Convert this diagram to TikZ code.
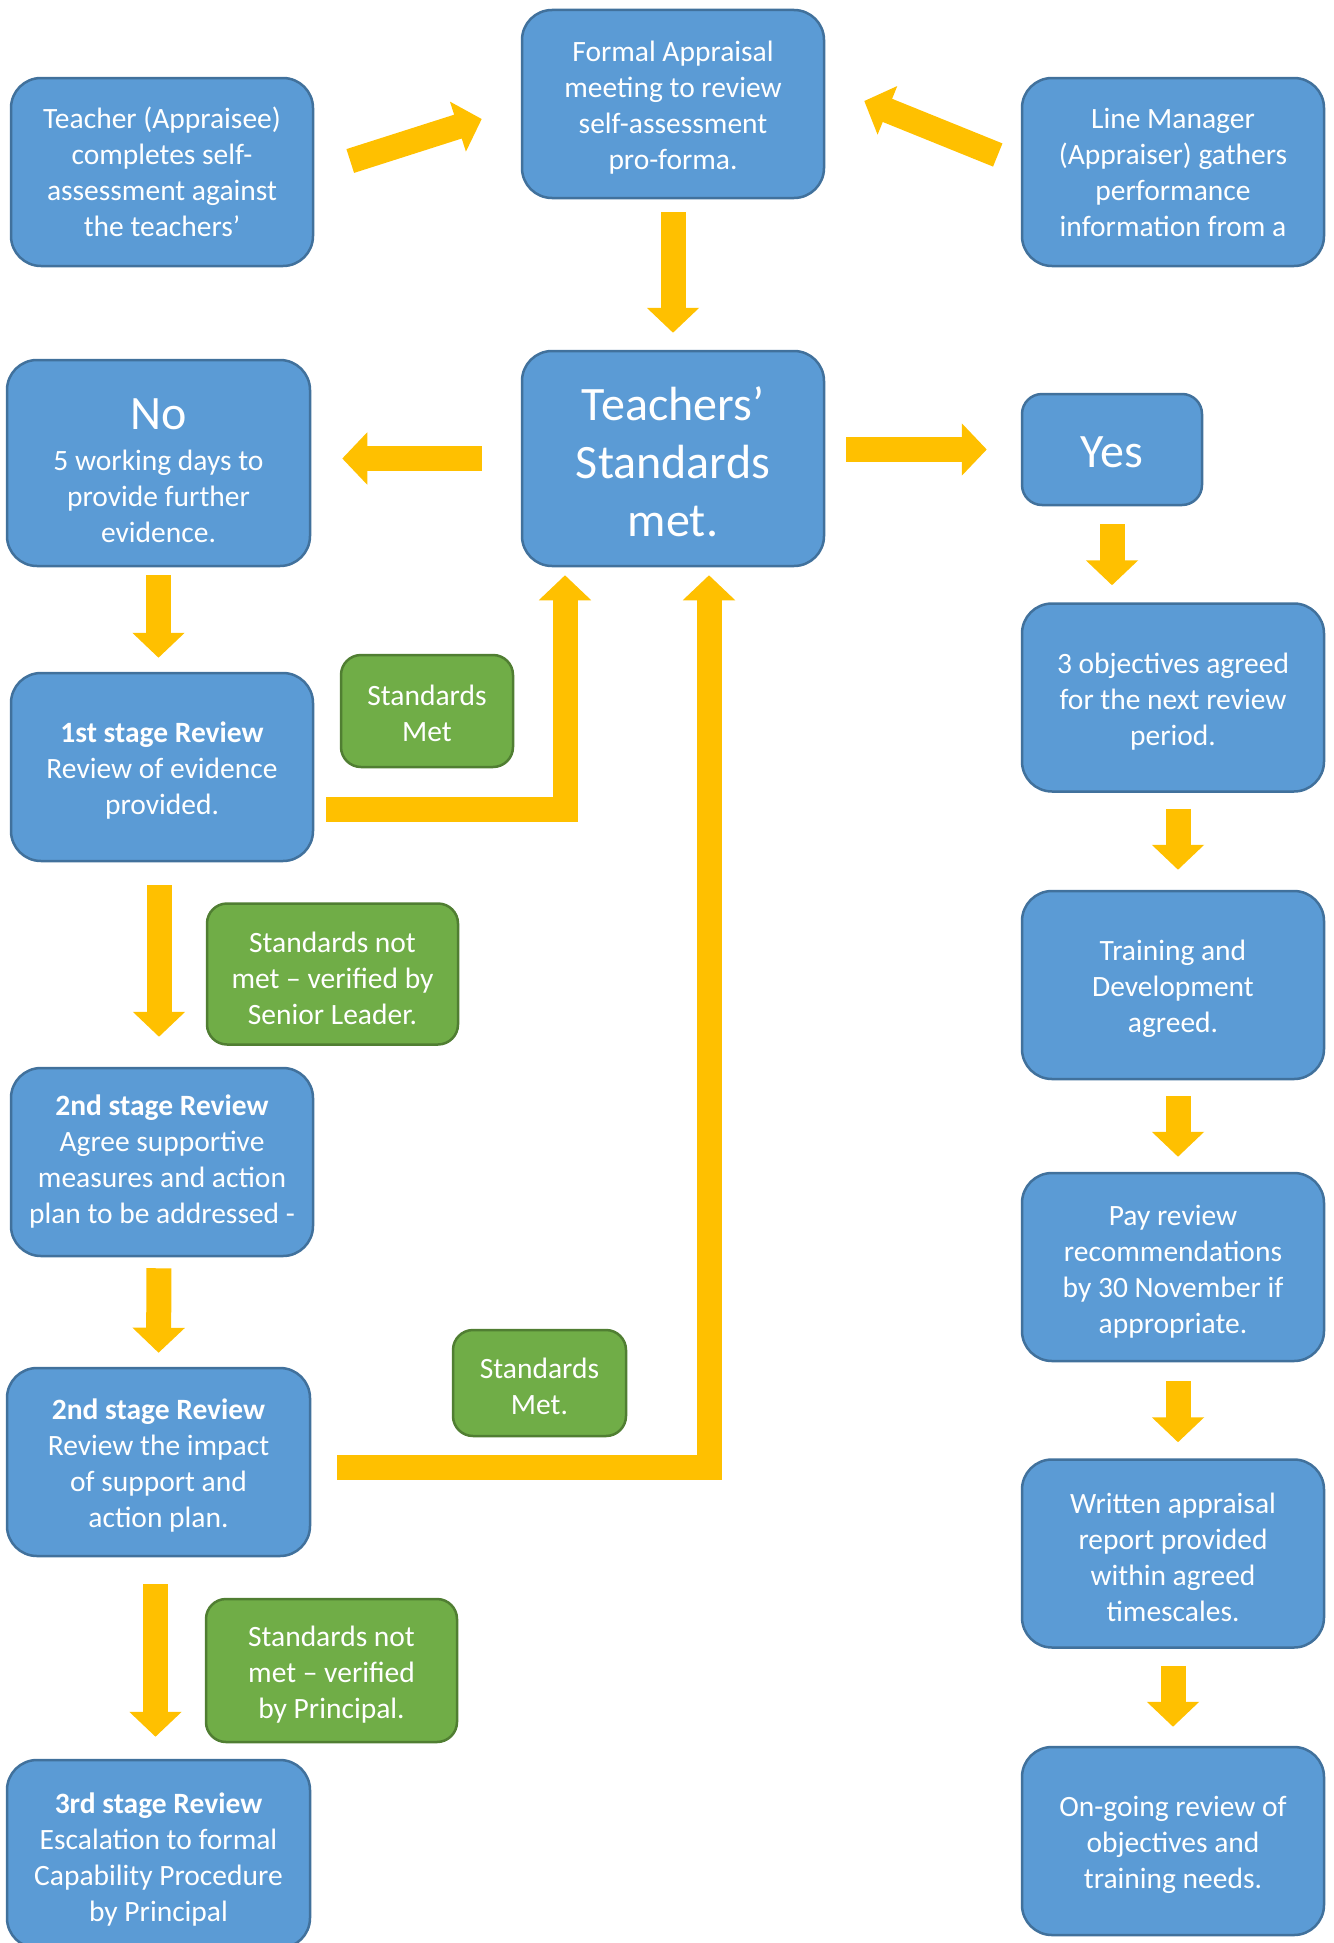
\documentclass[tikz,border=0pt]{standalone}
\usepackage{fontspec}
\setmainfont{Carlito}
\usepackage{tikz}
\usetikzlibrary{arrows.meta}

\definecolor{boxblue}{HTML}{5B9BD5}
\definecolor{boxblueline}{HTML}{41719C}
\definecolor{boxgreen}{HTML}{70AD47}
\definecolor{boxgreenline}{HTML}{507E32}
\definecolor{arrowgold}{HTML}{FFC000}

% pushes the first line of a box down a little
\newcommand{\boxstrut}[1][29pt]{\rule{0pt}{#1}}

\tikzset{
  bluebox/.style={
    draw=boxblueline,
    fill=boxblue,
    line width=2.5pt,
    rounded corners=30pt,
    text=white,
    align=center,
    inner sep=0pt,
    minimum width=302pt,
    minimum height=188pt,
    font=\fontsize{29.5}{36}\selectfont},
  greenbox/.style={
    bluebox,
    draw=boxgreenline,
    fill=boxgreen,
    rounded corners=20pt,
    minimum width=251pt,
    minimum height=141pt},
  bigtext/.style={font=\fontsize{48}{58}\selectfont},
  blockarrow/.style={
    draw=arrowgold,
    line width=25pt,
    line join=miter,
    -{Triangle[length=25pt,width=51pt,fill=arrowgold]}},
  gap/.style 2 args={shorten <=#1, shorten >=#2}
}

\begin{document}
\begin{tikzpicture}
\useasboundingbox (0pt,0pt) rectangle (1333pt,-1943pt);

% top row
\node[bluebox] (teacher) at (162pt,-172pt)
  {Teacher (Appraisee)\\completes self-\\assessment against\\the teachers’};
\node[bluebox] (formal) at (673pt,-104pt)
  {\boxstrut[27pt]Formal Appraisal\\meeting to review\\self-assessment\\pro-forma.};
\node[bluebox] (linemgr) at (1173pt,-172pt)
  {Line Manager\\(Appraiser) gathers\\performance\\information from a};

% decision
\node[bluebox,bigtext,minimum height=215pt] (ts) at (673pt,-458.5pt)
  {\boxstrut[40pt]Teachers’\\Standards\\met.};
\node[bluebox,minimum width=303pt,minimum height=206pt] (no) at (158.5pt,-463pt)
  {\boxstrut[46pt]{\fontsize{48}{58}\selectfont No}\\[5pt]5 working days to\\provide further\\evidence.};
\node[bluebox,bigtext,minimum width=180pt,minimum height=111pt,rounded corners=20pt] (yes) at (1112pt,-449.5pt)
  {\boxstrut[36pt]Yes};

% right column
\node[bluebox] (obj) at (1173pt,-697.5pt)
  {\boxstrut 3 objectives agreed\\for the next review\\period.};
\node[bluebox] (train) at (1173pt,-985pt)
  {\boxstrut Training and\\Development\\agreed.};
\node[bluebox] (pay) at (1173pt,-1267pt)
  {\boxstrut Pay review\\recommendations\\by 30 November if\\appropriate.};
\node[bluebox] (written) at (1173pt,-1553.5pt)
  {\boxstrut Written appraisal\\report provided\\within agreed\\timescales.};
\node[bluebox] (ongoing) at (1173pt,-1841pt)
  {\boxstrut On-going review of\\objectives and\\training needs.};

% left column
\node[bluebox] (first) at (162pt,-767pt)
  {\boxstrut[27pt]\textbf{1st stage Review}\\Review of evidence\\provided.};
\node[bluebox] (second) at (162pt,-1162pt)
  {\textbf{2nd stage Review}\\Agree supportive\\measures and action\\plan to be addressed -};
\node[bluebox,minimum width=303pt] (secondb) at (158.5pt,-1462pt)
  {\boxstrut[27pt]\textbf{2nd stage Review}\\Review the impact\\of support and\\action plan.};
\node[bluebox,minimum width=303pt] (third) at (158.5pt,-1854pt)
  {\boxstrut[31pt]\textbf{3rd stage Review}\\Escalation to formal\\Capability Procedure\\by Principal};

% outcome labels
\node[greenbox,minimum width=172pt,minimum height=112pt] (meta) at (427pt,-711pt)
  {\boxstrut[26pt]Standards\\Met};
\node[greenbox] (notmeta) at (332.5pt,-974pt)
  {\boxstrut Standards not\\met – verified by\\Senior Leader.};
\node[greenbox,minimum width=173pt,minimum height=106pt] (metb) at (539.5pt,-1383pt)
  {\boxstrut[27pt]Standards\\Met.};
\node[greenbox,minimum height=143pt] (notmetb) at (331.5pt,-1670.5pt)
  {\boxstrut Standards not\\met – verified\\by Principal.};

% arrows
\draw[blockarrow] ([shift={(36pt,11pt)}]teacher.east) -- ([shift={(-39pt,-15pt)}]formal.west);
\draw[blockarrow] ([shift={(-23pt,17pt)}]linemgr.west) -- ([shift={(39pt,3pt)}]formal.east);
\draw[blockarrow,gap={13pt}{17pt}] (formal.south) -- (ts.north);
\draw[blockarrow,gap={39pt}{31pt}] (ts.west) -- (ts.west -| no.east);
\draw[blockarrow,gap={21pt}{34pt}] (ts.east |- yes.west) -- (yes.west);

\draw[blockarrow,gap={18pt}{17pt}] (yes.south) -- (yes.south |- obj.north);
\draw[blockarrow,gap={16pt}{20pt}] ([xshift=5pt]obj.south) -- ([xshift=5pt]train.north);
\draw[blockarrow,gap={16pt}{15pt}] ([xshift=5pt]train.south) -- ([xshift=5pt]pay.north);
\draw[blockarrow,gap={19pt}{16pt}] ([xshift=5pt]pay.south) -- ([xshift=5pt]written.north);
\draw[blockarrow,gap={17pt}{19pt}] (written.south) -- (ongoing.north);

\draw[blockarrow,gap={8pt}{14pt}] (no.south) -- (no.south |- first.north);
\draw[blockarrow,gap={23pt}{30pt}] ([xshift=-3pt]first.south) -- ([xshift=-3pt]second.north);
\draw[blockarrow,gap={11pt}{14pt}] ([xshift=-3pt]second.south) -- (secondb.north);
\draw[blockarrow,gap={27pt}{22pt}] ([xshift=-3pt]secondb.south) -- ([xshift=-3pt]third.north);

\draw[blockarrow,gap={12pt}{8pt}] ([yshift=-42pt]first.east) -| ([xshift=-108pt]ts.south);
\draw[blockarrow,gap={26pt}{8pt}] ([yshift=-5pt]secondb.east) -| ([xshift=36pt]ts.south);
\end{tikzpicture}
\end{document}
